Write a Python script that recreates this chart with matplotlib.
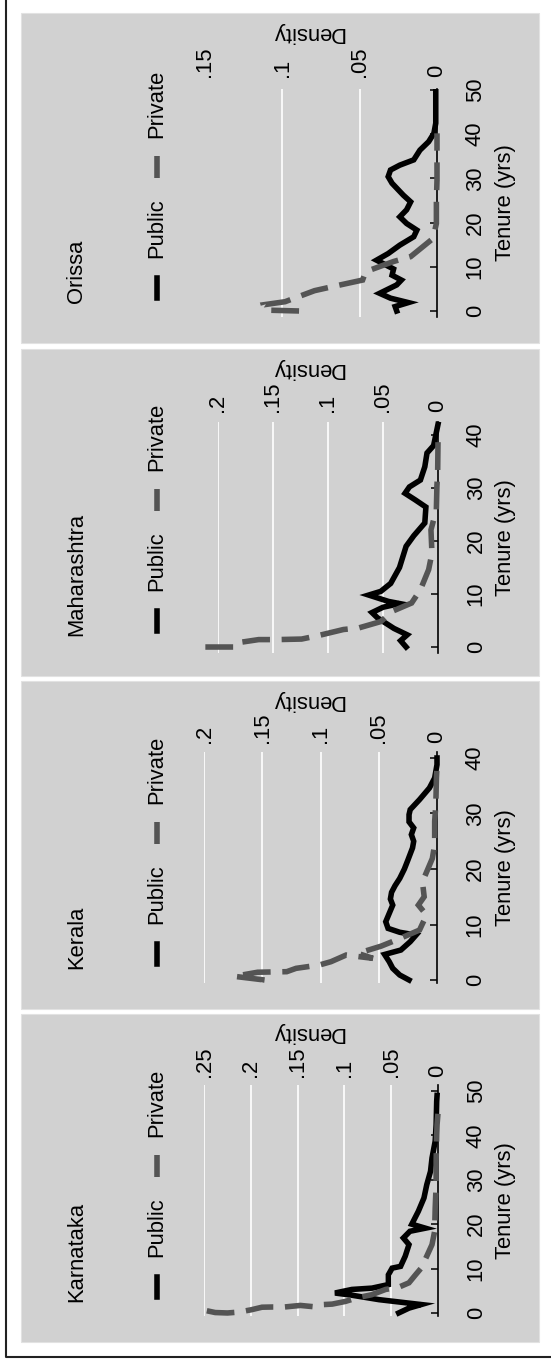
import matplotlib
matplotlib.use("Agg")
import matplotlib.pyplot as plt
from matplotlib.patches import Rectangle
from matplotlib.lines import Line2D

plt.rcParams['font.family'] = ['Liberation Sans', 'DejaVu Sans']
plt.rcParams['ytick.alignment'] = 'center'

W, H = 551, 1362
FS = 15.8
LW = 4.0
DASH = (5.0, 2.1)
PUB_COL = 'black'
PRI_COL = '#545454'

states = ["Karnataka", "Kerala", "Maharashtra", "Orissa"]

# curves: tenure (yrs) and density
kar_pub_t = [0, 1.1, 1.9, 3.0, 4.0, 4.5, 5.3, 5.6, 6.4, 8.6, 10.1, 10.5, 12.8, 15.4, 16.9,
             18.4, 19.1, 20.0, 22.9, 25.9, 28.9, 31.9, 34.9, 38.7, 42.4, 47.7, 49.0]
kar_pub_d = [0.042, 0.031, 0.018, 0.063, 0.092, 0.110, 0.092, 0.0705, 0.053, 0.053, 0.049,
             0.040, 0.035, 0.031, 0.037, 0.030, 0.0135, 0.028, 0.021, 0.015, 0.012, 0.008,
             0.0064, 0.003, 0.002, 0.0014, 0.001]
kar_pri_t = [0.5, 0.1, 0.0, 0.2, 0.7, 1.3, 1.35, 1.35, 1.7, 1.35, 1.9, 2.0, 2.6, 3.5, 4.1,
             5.3, 5.8, 6.8, 8.6, 10.1, 12.8, 15.4, 18.4, 23.6, 28.9, 34.2, 40.2, 42.4, 45.0]
kar_pri_d = [0.247, 0.238, 0.225, 0.213, 0.200, 0.188, 0.176, 0.164, 0.147, 0.130, 0.122,
             0.113, 0.099, 0.085, 0.071, 0.056, 0.042, 0.031, 0.024, 0.018, 0.012, 0.0064,
             0.0036, 0.003, 0.002, 0.002, 0.0014, 0.001, 0.0]

ker_pub_t = [0, 0.9, 2.1, 3.3, 4.6, 5.4, 6.9, 8.1, 8.6, 9.3, 10.5, 12.0, 13.5, 14.6, 15.8,
             17.0, 18.3, 20.0, 21.6, 23.8, 25.0, 26.2, 27.4, 28.5, 29.8, 30.7, 32.5, 34.6,
             36.4, 38.8, 40.0]
ker_pub_d = [0.024, 0.032, 0.038, 0.041, 0.045, 0.031, 0.023, 0.018, 0.032, 0.042, 0.044,
             0.041, 0.038, 0.040, 0.039, 0.036, 0.032, 0.028, 0.025, 0.021, 0.020, 0.022,
             0.020, 0.024, 0.024, 0.023, 0.015, 0.0065, 0.002, 0.0, 0.0]
ker_pri_t = [0.0, 0.66, 1.4, 1.5, 2.1, 2.7, 3.3, 4.5, 3.9, 4.8, 6.1, 7.2, 9.0, 11.7, 13.5,
             15.0, 17.7, 21.9, 24.4, 28.6, 31.6, 36.4, 38.5]
ker_pri_d = [0.148, 0.174, 0.154, 0.129, 0.121, 0.101, 0.091, 0.078, 0.055, 0.068, 0.048,
             0.035, 0.015, 0.009, 0.016, 0.011, 0.0125, 0.004, 0.002, 0.002, 0.001, 0.0005, 0.0]

mah_pub_t = [0, 1.2, 2.3, 3.5, 5.5, 6.5, 7.5, 8.2, 8.6, 9.8, 10.5, 12.0, 15.0, 19.0, 21.0,
             23.4, 26.4, 27.8, 29.0, 30.2, 31.5, 34.0, 36.6, 38.0, 41.0, 42.0]
mah_pub_d = [0.029, 0.034, 0.028, 0.040, 0.055, 0.060, 0.050, 0.035, 0.045, 0.063, 0.052,
             0.043, 0.035, 0.029, 0.022, 0.012, 0.011, 0.021, 0.030, 0.026, 0.016, 0.012,
             0.010, 0.004, 0.001, 0.0]
mah_pri_t = [0, 0, 0.75, 1.4, 1.4, 1.5, 2.1, 3.3, 3.6, 4.8, 6.7, 8.3, 10.8, 14.6, 17.7,
             22.1, 25.9, 30.3, 33.1, 38.5, 40.0]
mah_pri_d = [0.2115, 0.186, 0.184, 0.163, 0.146, 0.124, 0.110, 0.086, 0.072, 0.052, 0.042,
             0.024, 0.016, 0.0085, 0.0055, 0.0064, 0.0015, 0.001, 0.0003, 0.0, 0.0]

ori_pub_t = [0, 1.0, 1.9, 2.9, 4.0, 5.9, 7.0, 8.1, 9.5, 11.5, 13.0, 14.9, 16.8, 18.3, 19.8,
             21.3, 22.9, 24.7, 26.2, 28.9, 30.4, 31.9, 33.0, 34.2, 36.4, 38.3, 40.2, 42.5, 49.6]
ori_pub_d = [0.026, 0.027, 0.0185, 0.030, 0.037, 0.026, 0.023, 0.029, 0.028, 0.039, 0.0315,
             0.024, 0.015, 0.013, 0.0196, 0.024, 0.0196, 0.017, 0.0217, 0.029, 0.0315, 0.030,
             0.024, 0.015, 0.011, 0.0054, 0.002, 0.0008, 0.0008]
ori_pri_t = [0, 0.2, 1.4, 2.1, 2.9, 4.6, 5.7, 7.0, 8.9, 11.2, 12.3, 16.4, 19.8, 25.1, 29.6,
             35.7, 40.2]
ori_pri_d = [0.089, 0.111, 0.112, 0.098, 0.092, 0.079, 0.065, 0.048, 0.046, 0.028, 0.017,
             0.0026, 0.0004, 0.0004, 0.0, 0.0, 0.0]

curves = {
    "Karnataka": (kar_pub_t, kar_pub_d, kar_pri_t, kar_pri_d),
    "Kerala": (ker_pub_t, ker_pub_d, ker_pri_t, ker_pri_d),
    "Maharashtra": (mah_pub_t, mah_pub_d, mah_pri_t, mah_pri_d),
    "Orissa": (ori_pub_t, ori_pub_d, ori_pri_t, ori_pri_d),
}

dens_ticks = {
    "Karnataka": [0, .05, .1, .15, .2, .25],
    "Kerala": [0, .05, .1, .15, .2],
    "Maharashtra": [0, .05, .1, .15, .2],
    "Orissa": [0, .05, .1, .15],
}
dens_grid = {
    "Karnataka": [.05, .1, .15, .2, .25],
    "Kerala": [.05, .1, .15, .2],
    "Maharashtra": [.05, .1, .15, .2],
    "Orissa": [.05, .1],
}
tenure_ticks = {
    "Karnataka": [0, 10, 20, 30, 40, 50],
    "Kerala": [0, 10, 20, 30, 40],
    "Maharashtra": [0, 10, 20, 30, 40],
    "Orissa": [0, 10, 20, 30, 40, 50],
}


def dlab(v):
    if v == 0:
        return "0"
    return ("%g" % v).lstrip("0")


# layout in pixels: panel top/bottom, plot box (x0, x1, ytop, ybot), limits, label pad
layout = {
    "Orissa":      dict(pt=13,   pb=343,  box=(204.5, 437, 89, 317),   xl=0.15, yl=(-1.36, 50.23), pad=12),
    "Maharashtra": dict(pt=349,  pb=676,  box=(218, 438, 422, 653),    xl=0.2,  yl=(-1.13, 42.45), pad=10),
    "Kerala":      dict(pt=681,  pb=1009, box=(204, 437, 752, 983),    xl=0.2,  yl=(-0.54, 41.08), pad=9),
    "Karnataka":   dict(pt=1014, pb=1342, box=(204, 438, 1085, 1316),  xl=0.25, yl=(-0.68, 51.35), pad=8),
}


def fx(x):
    return x / W


def fy(y):
    return 1 - y / H


fig = plt.figure(figsize=(W / 100, H / 100), dpi=100)
fig.patch.set_facecolor('white')

# outer frame (left and bottom)
fig.add_artist(Line2D([fx(6), fx(6), fx(551)], [fy(0), fy(1357), fy(1357)],
                      transform=fig.transFigure, color='#222222', lw=1.5))

for st in states:
    L = layout[st]
    pt, pb = L['pt'], L['pb']
    fig.add_artist(Rectangle((fx(21), fy(pb)), fx(518), (pb - pt) / H,
                             transform=fig.transFigure, facecolor='#d1d1d1',
                             edgecolor='#e2e2e2', lw=0.8, zorder=0))

    x0, x1, yt, yb = L['box']
    ax = fig.add_axes([fx(x0), fy(yb), (x1 - x0) / W, (yb - yt) / H])
    ax.set_facecolor('none')
    ax.set_xlim(L['xl'], 0)
    ax.set_ylim(*L['yl'])
    for s in ['left', 'top', 'bottom']:
        ax.spines[s].set_visible(False)
    ax.spines['right'].set_linewidth(1.2)

    ax.vlines(dens_grid[st], L['yl'][0], L['yl'][1], color='white', lw=1.2, zorder=1)

    pub_t, pub_d, pri_t, pri_d = curves[st]
    ax.plot(pub_d, pub_t, color=PUB_COL, lw=LW, solid_joinstyle='miter',
            clip_on=False, zorder=3)
    ax.plot(pri_d, pri_t, color=PRI_COL, lw=LW, dashes=DASH,
            dash_joinstyle='miter', clip_on=False, zorder=4)

    ax.xaxis.tick_top()
    ax.set_xticks(dens_ticks[st], [dlab(v) for v in dens_ticks[st]])
    ax.tick_params(axis='x', length=0, pad=L['pad'] * 0.72, labelsize=FS, labelrotation=90)

    ax.yaxis.tick_right()
    ax.set_yticks(tenure_ticks[st], [str(v) for v in tenure_ticks[st]])
    ax.tick_params(axis='y', direction='in', length=5, width=1.1, pad=20,
                   labelsize=FS, labelrotation=90)

    # axis titles
    fig.text(fx(506), fy((yt + yb) / 2), "Tenure (yrs)", rotation=90, fontsize=FS,
             ha='center', va='center')
    fig.text(fx(308), fy(pt + 19), "Density", rotation=180, fontsize=FS,
             ha='center', va='center')

    # panel title and legend
    fig.text(fx(76.5), fy(pb - 40), st, rotation=90, fontsize=FS, ha='center', va='bottom')
    fig.add_artist(Line2D([fx(157), fx(157)], [fy(pb - 45), fy(pb - 65)],
                          transform=fig.transFigure, color=PUB_COL, lw=LW))
    fig.text(fx(157), fy(pb - 85), "Public", rotation=90, fontsize=FS, ha='center', va='bottom')
    fig.add_artist(Line2D([fx(157), fx(157)], [fy(pb - 165), fy(pb - 187)],
                          transform=fig.transFigure, color=PRI_COL, lw=LW, dashes=DASH))
    fig.text(fx(157), fy(pb - 205), "Private", rotation=90, fontsize=FS, ha='center', va='bottom')

fig.savefig("out.png", dpi=100)
